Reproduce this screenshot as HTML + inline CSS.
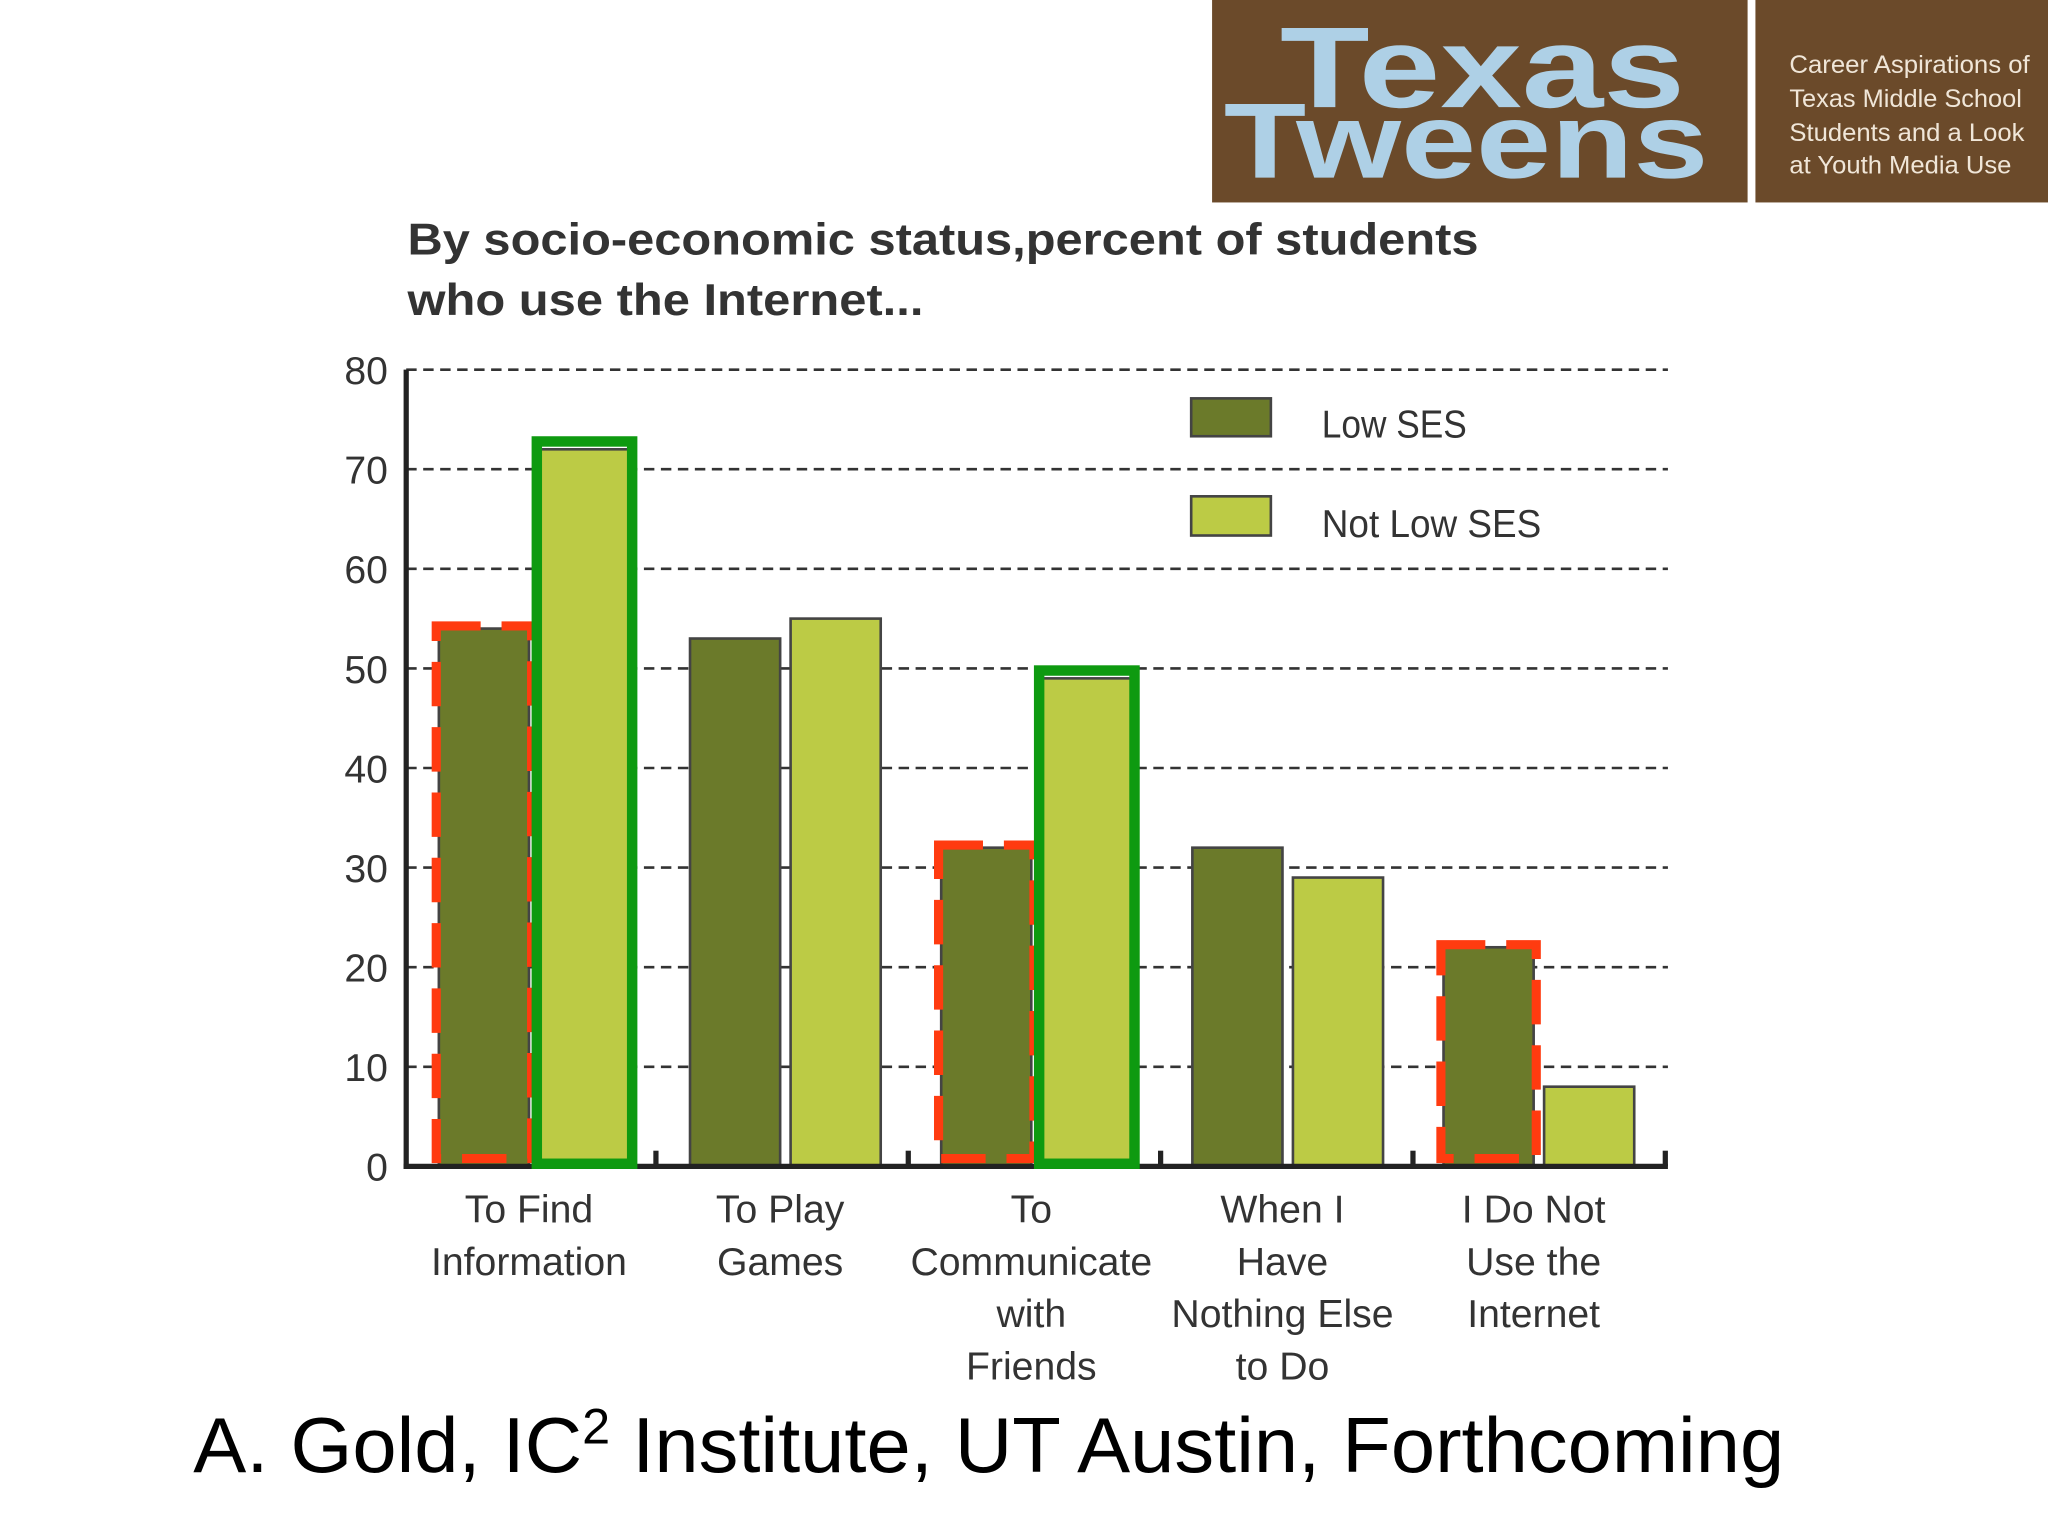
<!DOCTYPE html>
<html><head><meta charset="utf-8"><style>
html,body{margin:0;padding:0;background:#fff;}
svg{display:block;}
text{font-family:"Liberation Sans","DejaVu Sans",sans-serif;}
</style></head><body>
<svg id="chart" width="2048" height="1536" viewBox="0 0 1568 1176" xmlns="http://www.w3.org/2000/svg">
<rect x="0" y="0" width="1568" height="1176" fill="#fff"/>
<g>
<rect x="928" y="0" width="410" height="155" fill="#6b4a2a"/>
<rect x="1344" y="0" width="224" height="155" fill="#6b4a2a"/>
<text x="980" y="82" textLength="310" lengthAdjust="spacingAndGlyphs" font-size="88" font-weight="bold" fill="#aed0e6">Texas</text>
<text x="937" y="136" textLength="371" lengthAdjust="spacingAndGlyphs" font-size="82" font-weight="bold" fill="#aed0e6">Tweens</text>
<g font-size="19" fill="#f0e6d8">
<text x="1370" y="56" textLength="184" lengthAdjust="spacingAndGlyphs">Career Aspirations of</text>
<text x="1370" y="82" textLength="178" lengthAdjust="spacingAndGlyphs">Texas Middle School</text>
<text x="1370" y="108" textLength="180" lengthAdjust="spacingAndGlyphs">Students and a Look</text>
<text x="1370" y="133" textLength="170" lengthAdjust="spacingAndGlyphs">at Youth Media Use</text>
</g>
</g>
<g font-size="34" font-weight="bold" fill="#333">
<text x="312" y="195" textLength="820" lengthAdjust="spacingAndGlyphs">By socio-economic status,percent of students</text>
<text x="312" y="241" textLength="395" lengthAdjust="spacingAndGlyphs">who use the Internet...</text>
</g>
<g id="grid"></g>
<g id="bars"></g>
<g id="axes"></g>
<g id="hl"></g>
<g>
<rect x="912" y="305" width="61" height="29" fill="#6b7a2a" stroke="#444" stroke-width="2"/>
<text x="1012" y="335" font-size="30" fill="#333" textLength="111" lengthAdjust="spacingAndGlyphs">Low SES</text>
<rect x="912" y="380" width="61" height="30" fill="#bccb45" stroke="#444" stroke-width="2"/>
<text x="1012" y="411" font-size="30" fill="#333" textLength="168" lengthAdjust="spacingAndGlyphs">Not Low SES</text>
</g>
<text x="148" y="1127" font-size="60" fill="#000" textLength="1218" lengthAdjust="spacingAndGlyphs">A. Gold, IC<tspan font-size="38" dy="-22">2</tspan><tspan dy="22"> Institute, UT Austin, Forthcoming</tspan></text>
</svg>
<script>
const categories=[["To Find","Information"],["To Play","Games"],["To","Communicate","with","Friends"],["When I","Have","Nothing Else","to Do"],["I Do Not","Use the","Internet"]];
const lowSES=[54,53,32,32,22];
const notLowSES=[72,55,49,29,8];
const yTicks=[0,10,20,30,40,50,60,70,80];
const highlightLow=[0,2,4];
const highlightNotLow=[0,2];
const NS="http://www.w3.org/2000/svg";
const x0=311,x1=1277,yB=893,yT=283,ymax=80;
const y=v=>yB-(v/ymax)*(yB-yT);
const groupW=(x1-x0)/categories.length;
const cx=i=>409+192.3*i;
const bw=69,gap=8;
function mk(tag,attrs,parent){const e=document.createElementNS(NS,tag);for(const k in attrs)e.setAttribute(k,attrs[k]);parent.appendChild(e);return e;}
const grid=document.getElementById('grid'),bars=document.getElementById('bars'),axes=document.getElementById('axes'),hl=document.getElementById('hl');
yTicks.forEach(t=>{
 if(t>0){const l=mk('line',{x1:x0,x2:x1,y1:y(t),y2:y(t),stroke:'#333','stroke-width':2,'stroke-dasharray':'8,5'},grid);
 
 }
 const tx=mk('text',{x:297,y:y(t)+11,'text-anchor':'end','font-size':30,fill:'#333'},axes);tx.textContent=t;
 
 
});
categories.forEach((c,i)=>{
 const r1=mk('rect',{x:cx(i)-gap/2-bw,y:y(lowSES[i]),width:bw,height:yB-y(lowSES[i]),fill:'#6b7a2a',stroke:'#444','stroke-width':2},bars);
 
 
 const r2=mk('rect',{x:cx(i)+gap/2,y:y(notLowSES[i]),width:bw,height:yB-y(notLowSES[i]),fill:'#bccb45',stroke:'#444','stroke-width':2},bars);
 
 
 c.forEach((line,j)=>{const t=mk('text',{x:cx(i)-4,y:936+j*40,'text-anchor':'middle','font-size':30,fill:'#333'},axes);t.textContent=line;
 
 });
 const tk=mk('line',{x1:x0+groupW*(i+1)-2,x2:x0+groupW*(i+1)-2,y1:yB,y2:yB-12,stroke:'#222','stroke-width':4},axes);
 
 
});
const ya=mk('line',{x1:x0,x2:x0,y1:yT,y2:yB+2,stroke:'#222','stroke-width':4},axes);


const xa=mk('line',{x1:x0-2,x2:x1,y1:yB,y2:yB,stroke:'#222','stroke-width':4},axes);


highlightLow.forEach(i=>{
 const r=mk('rect',{x:cx(i)-gap/2-bw-2,y:y(lowSES[i])-2,width:bw+4,height:yB-y(lowSES[i])-4,fill:'none',stroke:'#ff3b10','stroke-width':7,'stroke-dasharray':'34,16'},hl);
 
 
});
highlightNotLow.forEach(i=>{
 const r=mk('rect',{x:cx(i)+gap/2-2,y:y(notLowSES[i])-6,width:bw+4,height:yB-y(notLowSES[i])+4,fill:'none',stroke:'#0e9a10','stroke-width':8},hl);
 
 
});
</script>
</body></html>
